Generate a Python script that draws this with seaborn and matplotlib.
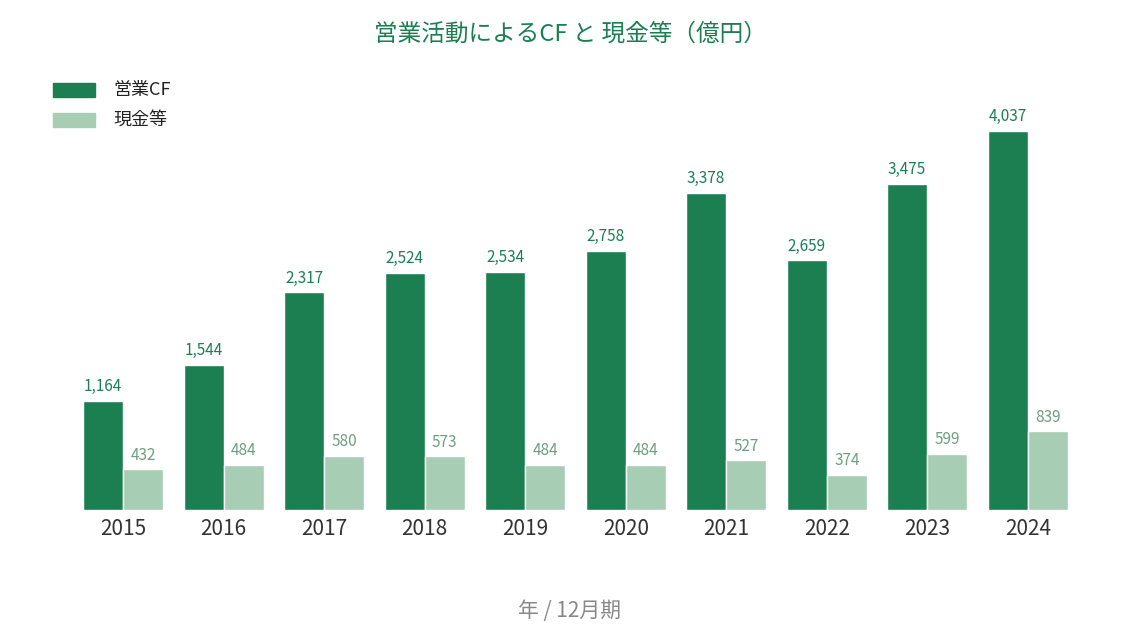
import matplotlib
matplotlib.use("Agg")
import matplotlib.pyplot as plt
import seaborn as sns
import pandas as pd

years = ["2015","2016","2017","2018","2019","2020","2021","2022","2023","2024"]
op_cf = [1164,1544,2317,2524,2534,2758,3378,2659,3475,4037]
cash = [432,484,580,573,484,484,527,374,599,839]
series_names = ["営業CF", "現金等"]

sns.set_theme(style="white")
plt.rcParams['font.family'] = ['Noto Sans CJK JP', 'DejaVu Sans']

df = pd.DataFrame({
    "year": years * 2,
    "value": op_cf + cash,
    "series": [series_names[0]] * len(years) + [series_names[1]] * len(years),
})
dark = "#1b7f52"
light = "#a8cdb5"

fig = plt.figure(figsize=(11.4, 6.3), dpi=100)
ax = fig.add_axes([0.064, 0.1905, 0.8816, 0.651])
sns.barplot(data=df, x="year", y="value", hue="series", palette=[dark, light],
            width=0.8, saturation=1, ax=ax, legend=False)
ax.set_xlim(-0.5, 9.5)
ax.set_ylim(0, 4367)
for i, c in enumerate(ax.containers):
    col = dark if i == 0 else "#6f9e83"
    ax.bar_label(c, labels=[f"{v:,.0f}" for v in c.datavalues], padding=4,
                 color=col, fontsize=11)
for s in ax.spines.values():
    s.set_visible(False)
ax.set_yticks([])
ax.set_ylabel("")
ax.set_xlabel("")
ax.tick_params(axis="x", labelsize=15, colors="#333333", pad=6, length=0)

fig.text(0.5, 0.945, "営業活動によるCF と 現金等（億円）", ha="center", va="center",
         fontsize=17, color=dark)
fig.text(0.5, 0.03, "年 / 12月期", ha="center", va="center", fontsize=15, color="#888888")

from matplotlib.patches import Rectangle
for k, (name, col) in enumerate(zip(series_names, [dark, light])):
    y = 1 - (90 + 30 * k) / 630
    fig.patches.append(Rectangle((53 / 1140, y - 7 / 630), 42 / 1140, 14 / 630,
                                 transform=fig.transFigure, color=col))
    fig.text(113 / 1140, y, name, va="center", ha="left", fontsize=13, color="#222222")

fig.savefig("out.png", dpi=100)
